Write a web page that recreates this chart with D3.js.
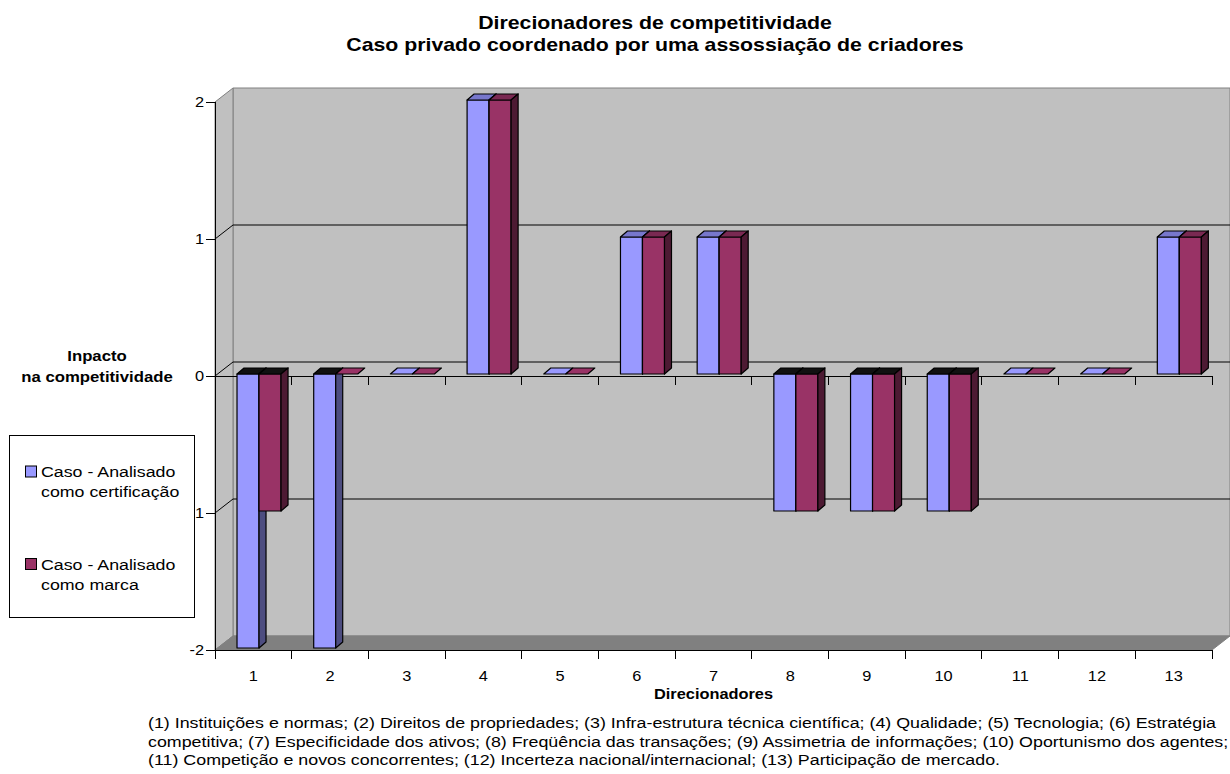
<!DOCTYPE html>
<html>
<head>
<meta charset="utf-8">
<script src="https://cdn.jsdelivr.net/npm/d3@7"></script>
<style>
  body { margin: 0; background: #fff; }
  text { font-family: "Liberation Sans", Arial, sans-serif; fill: #000; }
</style>
</head>
<body>
<div class="chart"></div>
<script>
// data
var categories = ["1", "2", "3", "4", "5", "6", "7", "8", "9", "10", "11", "12", "13"];
var certificacao = [-2, -2, 0, 2, 0, 1, 1, -1, -1, -1, 0, 0, 1];
var marca = [-1, 0, 0, 2, 0, 1, 1, -1, -1, -1, 0, 0, 1];
var seriesNames = [["Caso - Analisado", "como certificação"], ["Caso - Analisado", "como marca"]];
var yTicks = [2, 1, 0, -1, -2];
var titleLines = ["Direcionadores de competitividade", "Caso privado coordenado por uma assossiação de criadores"];
var captionLines = [
  "(1) Instituições e normas; (2) Direitos de propriedades; (3) Infra-estrutura técnica científica; (4) Qualidade; (5) Tecnologia; (6) Estratégia",
  "competitiva; (7) Especificidade dos ativos; (8) Freqüência das transações; (9) Assimetria de informações; (10) Oportunismo dos agentes;",
  "(11) Competição e novos concorrentes; (12) Incerteza nacional/internacional; (13) Participação de mercado."
];

var svgWidth = 1230, svgHeight = 774;
var SX = 1.17; // the picture is a bit stretched sideways, so the text is too

// front plane of the plot and the depth offset of the walls
var plotLeft = 215, plotRight = 1212, plotTop = 102, plotBottom = 650;
var depthX = 18, depthY = 14;

var svg = d3.select(".chart").append("svg")
  .attr("width", svgWidth)
  .attr("height", svgHeight);

var x = d3.scaleBand().domain(categories).range([plotLeft, plotRight]).padding(0);
var y = d3.scaleLinear().domain([-2, 2]).range([plotBottom, plotTop]);

function label(g, str, px, py, size, anchor, weight, sx) {
  return g.append("text")
    .attr("transform", `translate(${px},${py}) scale(${sx || SX},1)`)
    .attr("text-anchor", anchor || "start")
    .attr("font-size", size)
    .attr("font-weight", weight || "normal")
    .text(str);
}

function poly(pts) {
  return "M" + pts.map(p => p.join(",")).join("L") + "Z";
}

// walls and floor
var walls = svg.append("g");
walls.append("path")
  .attr("d", poly([[plotLeft + depthX, y(2) - depthY], [svgWidth, y(2) - depthY], [svgWidth, y(-2) - depthY], [plotLeft + depthX, y(-2) - depthY]]))
  .attr("fill", "#c0c0c0").attr("stroke", "#808080");
walls.append("path")
  .attr("d", poly([[plotLeft, y(2)], [plotLeft + depthX, y(2) - depthY], [plotLeft + depthX, y(-2) - depthY], [plotLeft, y(-2)]]))
  .attr("fill", "#c0c0c0").attr("stroke", "#808080");
walls.append("path")
  .attr("d", poly([[plotLeft, y(-2)], [plotLeft + depthX, y(-2) - depthY], [svgWidth, y(-2) - depthY], [plotRight, y(-2)]]))
  .attr("fill", "#808080").attr("stroke", "#808080");

// gridlines on back wall and side wall
yTicks.filter(v => v > -2 && v < 2).forEach(function(v) {
  walls.append("path")
    .attr("d", `M${plotLeft},${y(v)}L${plotLeft + depthX},${y(v) - depthY}L${svgWidth},${y(v) - depthY}`)
    .attr("fill", "none").attr("stroke", "#000").attr("stroke-width", 1);
});

// category axis lines at zero and at the floor, ticks between categories
var axes = svg.append("g").attr("stroke", "#000").attr("shape-rendering", "crispEdges");
[0, -2].forEach(function(v) {
  axes.append("line").attr("x1", plotLeft).attr("x2", plotRight).attr("y1", y(v)).attr("y2", y(v));
  d3.range(categories.length + 1).forEach(function(k) {
    var tx = plotLeft + k * x.bandwidth();
    axes.append("line").attr("x1", tx).attr("x2", tx).attr("y1", y(v)).attr("y2", y(v) + 9);
  });
});

// bars
var series = [
  { values: certificacao, front: "#9999ff", topc: "#7777cc", side: "#4d4d80", off: 0.287 },
  { values: marca, front: "#993366", topc: "#7a2952", side: "#4d1a33", off: 0.574 }
];
var bw = x.bandwidth() * 0.287, bdx = 7, bdy = 6, shiftY = -2;
var bars = svg.append("g").attr("stroke", "#000").attr("stroke-width", 1.2).attr("stroke-linejoin", "round");

categories.forEach(function(c, i) {
  series.forEach(function(s) {
    var v = s.values[i];
    var x0 = x(c) + x.bandwidth() * s.off, x1 = x0 + bw;
    var yz = y(0) + shiftY, yv = y(v) + shiftY;
    var yTop = Math.min(yz, yv), yBot = Math.max(yz, yv);
    if (v === 0) {
      bars.append("path")
        .attr("d", poly([[x0, yz], [x1, yz], [x1 + bdx, yz - bdy], [x0 + bdx, yz - bdy]]))
        .attr("fill", s.front);
      return;
    }
    bars.append("path")
      .attr("d", poly([[x0, yTop], [x1, yTop], [x1, yBot], [x0, yBot]]))
      .attr("fill", s.front);
    bars.append("path")
      .attr("d", poly([[x0, yTop], [x1, yTop], [x1 + bdx, yTop - bdy], [x0 + bdx, yTop - bdy]]))
      .attr("fill", v > 0 ? s.topc : "#111");
    bars.append("path")
      .attr("d", poly([[x1, yTop], [x1 + bdx, yTop - bdy], [x1 + bdx, yBot - bdy], [x1, yBot]]))
      .attr("fill", s.side);
  });
});

// front value axis
var yAxis = svg.append("g");
yAxis.append("line").attr("x1", plotLeft).attr("x2", plotLeft).attr("y1", y(2)).attr("y2", y(-2))
  .attr("stroke", "#000").attr("shape-rendering", "crispEdges");
yTicks.forEach(function(v) {
  yAxis.append("line").attr("x1", plotLeft - 9).attr("x2", plotLeft).attr("y1", y(v)).attr("y2", y(v))
    .attr("stroke", "#000").attr("shape-rendering", "crispEdges");
  label(yAxis, String(v), 204, y(v) + 5, 14, "end");
});

// category labels
categories.forEach(function(c) {
  label(svg, c, x(c) + x.bandwidth() / 2, 681, 14, "middle");
});

// titles
label(svg, titleLines[0], 655, 29, 18.2, "middle", "bold");
label(svg, titleLines[1], 655, 51, 18.2, "middle", "bold");
label(svg, "Direcionadores", (plotLeft + plotRight) / 2, 699, 14, "middle", "bold");
label(svg, "Inpacto", 97, 361, 14.3, "middle", "bold");
label(svg, "na competitividade", 97, 382, 14.3, "middle", "bold");

// caption under the chart
captionLines.forEach(function(line, i) {
  label(svg, line, 148, 728 + i * 18.5, 15, "start", "normal", 1.19);
});

// legend
var legend = svg.append("g");
legend.append("rect").attr("x", 9.5).attr("y", 435.5).attr("width", 185).attr("height", 182)
  .attr("fill", "#fff").attr("stroke", "#000");
[471.5, 564].forEach(function(cy, i) {
  legend.append("rect").attr("x", 25.5).attr("y", cy - 5.5).attr("width", 11).attr("height", 11)
    .attr("fill", series[i].front).attr("stroke", "#000");
  label(legend, seriesNames[i][0], 41, cy + 5.5, 15.2);
  label(legend, seriesNames[i][1], 41, cy + 25.5, 15.2);
});
</script>
</body>
</html>
